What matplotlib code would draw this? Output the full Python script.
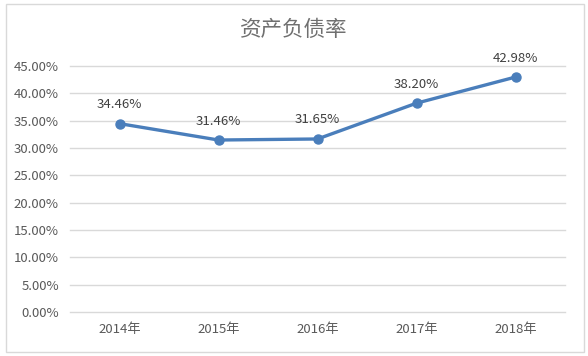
import matplotlib
matplotlib.use('Agg')
import matplotlib.pyplot as plt
from matplotlib.patches import Rectangle
from matplotlib.ticker import FuncFormatter

plt.rcParams['font.family'] = ['Noto Sans CJK SC', 'DejaVu Sans']

# data
years = ['2014年', '2015年', '2016年', '2017年', '2018年']
ratios = [34.46, 31.46, 31.65, 38.20, 42.98]
yticks = [0, 5, 10, 15, 20, 25, 30, 35, 40, 45]

fig = plt.figure(figsize=(5.88, 3.56), dpi=100)
fig.patches.append(Rectangle((6 / 588, 4 / 356), 578 / 588, 348 / 356,
                             transform=fig.transFigure, fill=False,
                             edgecolor='#D9D9D9', linewidth=1))

ax = fig.add_axes([70 / 588, 1 - 312 / 356, 495 / 588, 246 / 356])
x = list(range(len(years)))
ax.plot(x, ratios, color='#4A7EBB', linewidth=2.4, marker='o',
        markersize=6.5, solid_capstyle='round', zorder=3)

for xi, v in zip(x, ratios):
    ax.annotate(f'{v:.2f}%', (xi, v), xytext=(0, 9), textcoords='offset points',
                ha='center', va='bottom', fontsize=9.5, color='#404040')

ax.set_xlim(-0.5, len(years) - 0.5)
ax.set_ylim(0, 45)
ax.set_yticks(yticks)
ax.yaxis.set_major_formatter(FuncFormatter(lambda v, p: f'{v:.2f}%'))
ax.set_xticks(x)
ax.set_xticklabels(years)
ax.grid(axis='y', color='#D9D9D9', linewidth=1)
for gl in ax.get_ygridlines():
    gl.set_clip_on(False)
ax.set_axisbelow(True)
for s in ax.spines.values():
    s.set_visible(False)
ax.tick_params(length=0, labelsize=9.5, colors='#595959', pad=8)

fig.text(294 / 588, 1 - 30 / 356, '资产负债率', ha='center', va='center',
         fontsize=15.5, color='#707070', fontweight='light')

fig.savefig('out.png', dpi=100)
